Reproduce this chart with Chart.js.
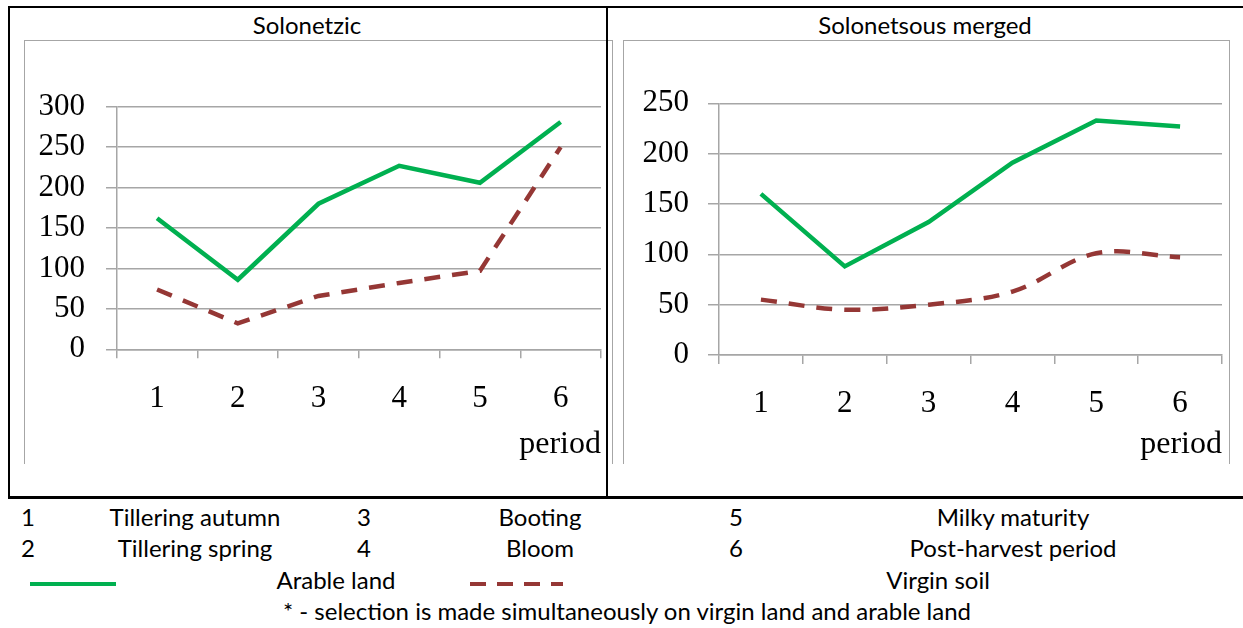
<!DOCTYPE html>
<html><head><meta charset="utf-8">
<script src="https://cdn.jsdelivr.net/npm/chart.js@4/dist/chart.umd.min.js"></script>
<style>
body{margin:0;background:#fff;width:1243px;height:628px;position:relative;overflow:hidden;font-family:Lato,'Open Sans',sans-serif;}
.bk{position:absolute;background:#000;}
.frame{position:absolute;border:1.5px solid #a6a6a6;border-bottom:none;box-sizing:border-box;}
.t{position:absolute;white-space:nowrap;transform:translate(-50%,-50%);font-size:24px;color:#000;line-height:1;}
canvas{position:absolute;}
</style></head><body>
<div class="frame" style="left:24px;top:40px;width:589px;height:424px;"></div>
<div class="frame" style="left:623px;top:40px;width:607px;height:424px;"></div>
<div class="bk" style="left:8px;top:6px;width:1235px;height:2px;"></div>
<div class="bk" style="left:8px;top:6px;width:2px;height:493px;"></div>
<div class="bk" style="left:606px;top:6px;width:2px;height:493px;"></div>
<div class="bk" style="left:8px;top:496px;width:1235px;height:2.5px;"></div>

<div class="t" style="left:307px;top:25px;">Solonetzic</div>
<div class="t" style="left:925px;top:25px;">Solonetsous merged</div>

<canvas id="c1" width="587" height="423" style="left:25px;top:41px;"></canvas>
<canvas id="c2" width="605" height="423" style="left:624px;top:41px;"></canvas>

<div class="t" style="left:28px;top:517px;">1</div>
<div class="t" style="left:195px;top:517px;">Tillering autumn</div>
<div class="t" style="left:364px;top:517px;">3</div>
<div class="t" style="left:540px;top:517px;">Booting</div>
<div class="t" style="left:736px;top:517px;">5</div>
<div class="t" style="left:1013px;top:517px;">Milky maturity</div>
<div class="t" style="left:28px;top:548px;">2</div>
<div class="t" style="left:195px;top:548px;">Tillering spring</div>
<div class="t" style="left:364px;top:548px;">4</div>
<div class="t" style="left:540px;top:548px;">Bloom</div>
<div class="t" style="left:736px;top:548px;">6</div>
<div class="t" style="left:1013px;top:548px;">Post-harvest period</div>
<svg style="position:absolute;left:0;top:570px;" width="600" height="30">
<line x1="30" y1="14" x2="116" y2="14" stroke="#00b050" stroke-width="4"/>
<line x1="470" y1="14" x2="563" y2="14" stroke="#953735" stroke-width="4" stroke-dasharray="16 11"/>
</svg>
<div class="t" style="left:336px;top:580px;">Arable land</div>
<div class="t" style="left:938px;top:580px;">Virgin soil</div>
<div class="t" style="left:627px;top:611px;">* - selection is made simultaneously on virgin land and arable land</div>

<script>
const periods = ['1','2','3','4','5','6'];
const solonetzicArable = [162, 86, 180, 227, 206, 281];
const solonetzicVirgin = [74, 32, 66, 82, 97, 250];
const mergedArable = [160, 88, 132, 191, 233, 227];
const mergedVirgin = [55, 45, 50, 63, 101, 97];
const solonetzicTicks = {min:0, max:300, step:50};
const mergedTicks = {min:0, max:250, step:50};

const GREEN = '#00b050', RED = '#953735', GRID = '#a6a6a6';
const serif = "'Liberation Serif','Times New Roman',serif";

function makeChart(id, arable, virgin, ticks, g) {
  return new Chart(document.getElementById(id), {
    type: 'line',
    data: {
      labels: periods,
      datasets: [
        {label:'Arable land', data: arable, borderColor: GREEN, borderWidth: 4.5, pointRadius: 0, tension: g.tg, fill:false},
        {label:'Virgin soil', data: virgin, borderColor: RED, borderWidth: 4.5, borderDash:[16,12], pointRadius: 0, tension: g.tr, fill:false}
      ]
    },
    options: {
      responsive: false, animation: false, devicePixelRatio: 1,
      layout: {padding: {top: g.top, right: g.right, left: 0, bottom: 0}},
      plugins: {legend: {display:false}, tooltip: {enabled:false}, title:{display:false}},
      scales: {
        x: {
          type:'category', offset: true,
          grid: {offset: true, drawOnChartArea: false, drawTicks: true, tickLength: 9, color: GRID, lineWidth: 1.5},
          border: {display: true, color: GRID, width: 1.5},
          ticks: {color:'#000', font:{family: serif, size: 31}, padding: g.xpad},
          title: {display: true, text: 'period', align: 'end', color:'#000', font:{family: serif, size: 32}, padding:{top:0, bottom:0}},
          afterFit: s => { s.height = g.xh; }
        },
        y: {
          min: ticks.min, max: ticks.max,
          grid: {color: GRID, lineWidth: 1.5, tickLength: g.ytl, drawTicks: true},
          border: {display: true, color: GRID, width: 1.5},
          ticks: {stepSize: ticks.step, color:'#000', font:{family: serif, size: 31}, padding: g.ypad},
          afterFit: s => { s.width = g.yw; }
        }
      }
    }
  });
}
makeChart('c1', solonetzicArable, solonetzicVirgin, solonetzicTicks, {top:65.7, right:11, xh:114.7, yw:91.7, xpad:22, ypad:21, ytl:10.7, tg:0, tr:0});
makeChart('c2', mergedArable, mergedVirgin, mergedTicks, {top:62.3, right:7, xh:109, yw:95, xpad:21, ypad:19, ytl:11, tg:0, tr:0.35});
</script>
</body></html>
